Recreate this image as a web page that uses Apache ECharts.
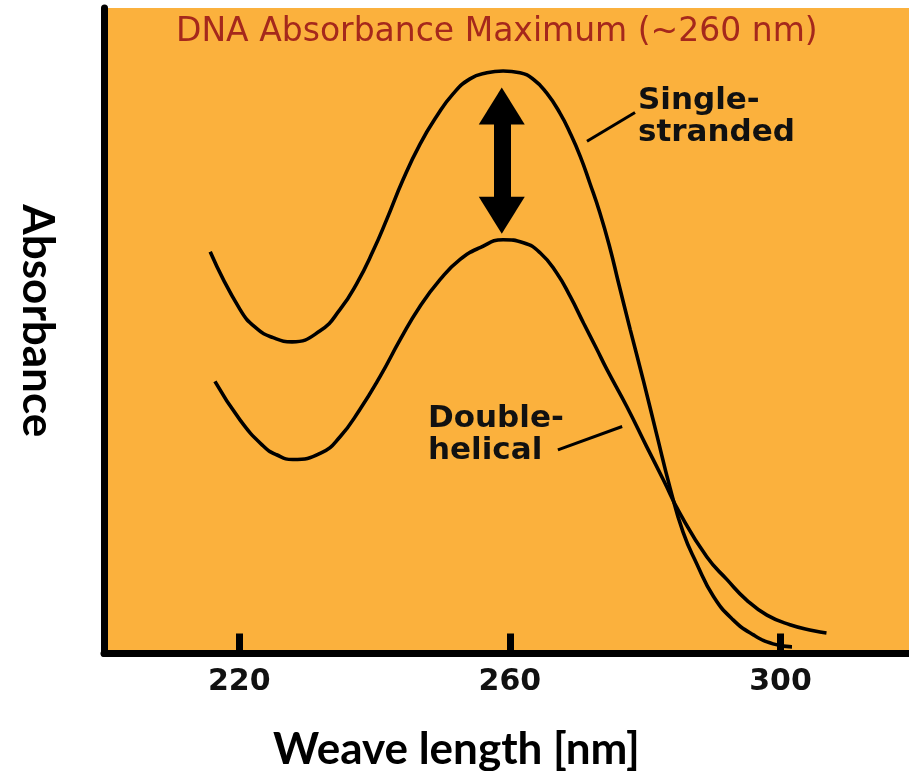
<!DOCTYPE html>
<html>
<head>
<meta charset="utf-8">
<script src="https://cdn.jsdelivr.net/npm/echarts@6/dist/echarts.min.js"></script>
<style>
  html, body { margin: 0; padding: 0; background: #ffffff; }
  #chart { width: 909px; height: 771px; }
</style>
</head>
<body>
<div id="chart"></div>
<script>
// ---- Data ----
const chartTitle = 'DNA Absorbance Maximum (~260 nm)';
const xAxisTitle = 'Weave length [nm]';
const yAxisTitle = 'Absorbance';
const tickWavelengths = [220, 260, 300];

// Single-stranded DNA spectrum (wavelength nm, relative absorbance)
const singleWavelength = [215.7, 220.1, 222.6, 225.0, 227.8, 231.9, 234.9, 237.4, 239.8, 241.8, 244.2, 246.7, 249.2, 251.6, 254.1, 256.6, 259.0, 261.5, 263.5, 265.4, 267.4, 268.9, 270.4, 271.8, 273.3, 274.8, 276.0, 277.8, 279.7, 281.7, 283.7, 285.6, 287.6, 290.1, 293.0, 296.0, 298.9, 301.7];
const singleAbsorbance = [0.669, 0.573, 0.541, 0.526, 0.519, 0.537, 0.573, 0.617, 0.671, 0.723, 0.789, 0.848, 0.895, 0.932, 0.957, 0.967, 0.970, 0.967, 0.956, 0.934, 0.900, 0.867, 0.828, 0.784, 0.734, 0.675, 0.620, 0.539, 0.456, 0.365, 0.275, 0.202, 0.150, 0.095, 0.056, 0.031, 0.016, 0.011];

// Double-helical DNA spectrum
const doubleWavelength = [216.4, 220.1, 223.5, 225.5, 227.9, 232.1, 234.9, 237.8, 240.8, 243.8, 246.7, 249.7, 252.6, 255.6, 259.0, 262.0, 264.5, 266.9, 268.9, 270.9, 272.8, 274.3, 277.3, 280.2, 282.7, 285.1, 289.1, 292.1, 295.0, 298.0, 301.4, 304.9, 306.8];
const doubleAbsorbance = [0.453, 0.389, 0.346, 0.331, 0.323, 0.334, 0.361, 0.406, 0.461, 0.523, 0.578, 0.623, 0.656, 0.676, 0.689, 0.684, 0.667, 0.634, 0.595, 0.550, 0.508, 0.474, 0.411, 0.345, 0.289, 0.234, 0.161, 0.123, 0.089, 0.064, 0.048, 0.038, 0.034];

// Annotation anchors (data coordinates)
const arrowWavelength = 258.8;
const arrowFrom = 0.730;   // near double-helical peak
const arrowTo = 0.912;     // near single-stranded peak
const singleLeader = [[271.4, 0.853], [278.5, 0.901]];
const doubleLeader = [[267.1, 0.339], [276.6, 0.378]];
const singleLabel = 'Single-\nstranded';
const doubleLabel = 'Double-\nhelical';

// ---- Chart ----
const chart = echarts.init(document.getElementById('chart'), null, { renderer: 'canvas' });

const singleData = singleWavelength.map((x, i) => [x, singleAbsorbance[i]]);
const doubleData = doubleWavelength.map((x, i) => [x, doubleAbsorbance[i]]);

const curveStyle = { color: '#000000', width: 3.6 };

chart.setOption({
  animation: false,
  backgroundColor: '#ffffff',
  title: {
    text: chartTitle,
    left: 176,
    top: 16,
    padding: 0,
    textStyle: {
      fontFamily: 'DejaVu Sans',
      fontWeight: 'normal',
      fontSize: 33,
      color: '#A5281C'
    }
  },
  grid: {
    left: 104,
    right: 0,
    top: 8,
    bottom: 117.5,
    containLabel: false,
    outerBoundsMode: 'none',
    show: true,
    backgroundColor: '#FBB13D',
    borderWidth: 0
  },
  xAxis: {
    type: 'value',
    min: 200,
    max: 319,
    name: xAxisTitle,
    nameLocation: 'middle',
    nameGap: 74,
    nameTextStyle: {
      fontFamily: 'Lato',
      fontWeight: 'bold',
      fontSize: 44,
      color: '#000000',
      padding: [0, 100, 0, 0]
    },
    splitLine: { show: false },
    axisLine: { show: true, onZero: false, lineStyle: { color: '#000000', width: 7 } },
    axisTick: {
      show: true,
      inside: true,
      length: 20,
      customValues: tickWavelengths,
      lineStyle: { color: '#000000', width: 7 }
    },
    axisLabel: {
      show: true,
      customValues: tickWavelengths,
      margin: 14,
      fontFamily: 'DejaVu Sans',
      fontWeight: 'bold',
      fontSize: 30,
      color: '#111111'
    }
  },
  yAxis: {
    type: 'value',
    min: 0,
    max: 1.075,
    name: yAxisTitle,
    nameLocation: 'middle',
    nameRotate: -90,
    nameGap: 45,
    nameTextStyle: {
      fontFamily: 'Lato',
      fontWeight: 'bold',
      fontSize: 44,
      color: '#000000',
      padding: [0, 20, 0, 0]
    },
    splitLine: { show: false },
    axisLine: { show: true, onZero: false, lineStyle: { color: '#000000', width: 7 } },
    axisTick: { show: false },
    axisLabel: { show: false }
  },
  graphic: [
    {
      type: 'text',
      left: 638,
      top: 85,
      silent: true,
      style: {
        text: singleLabel,
        font: 'bold 31px "DejaVu Sans"',
        lineHeight: 32,
        fill: '#111111'
      }
    },
    {
      type: 'text',
      left: 428,
      top: 403,
      silent: true,
      style: {
        text: doubleLabel,
        font: 'bold 31px "DejaVu Sans"',
        lineHeight: 32,
        fill: '#111111'
      }
    }
  ],
  series: [
    {
      name: 'Single-stranded',
      type: 'line',
      data: singleData,
      smooth: 0.5,
      symbol: 'none',
      lineStyle: curveStyle,
      z: 3,
      markLine: {
        silent: true,
        animation: false,
        symbol: ['none', 'none'],
        label: { show: false },
        data: [
          [
            { coord: [arrowWavelength, arrowFrom], symbol: 'triangle', symbolSize: [46, 37],
              lineStyle: { color: '#000000', width: 17, type: 'solid' } },
            { coord: [arrowWavelength, arrowTo], symbol: 'triangle', symbolSize: [46, 37] }
          ],
          [
            { coord: singleLeader[0], lineStyle: { color: '#000000', width: 3, type: 'solid' } },
            { coord: singleLeader[1] }
          ]
        ]
      }
    },
    {
      name: 'Double-helical',
      type: 'line',
      data: doubleData,
      smooth: 0.5,
      symbol: 'none',
      lineStyle: curveStyle,
      z: 3,
      markLine: {
        silent: true,
        animation: false,
        symbol: ['none', 'none'],
        label: { show: false },
        data: [
          [
            { coord: doubleLeader[0], lineStyle: { color: '#000000', width: 3, type: 'solid' } },
            { coord: doubleLeader[1] }
          ]
        ]
      }
    }
  ]
});
</script>
</body>
</html>
